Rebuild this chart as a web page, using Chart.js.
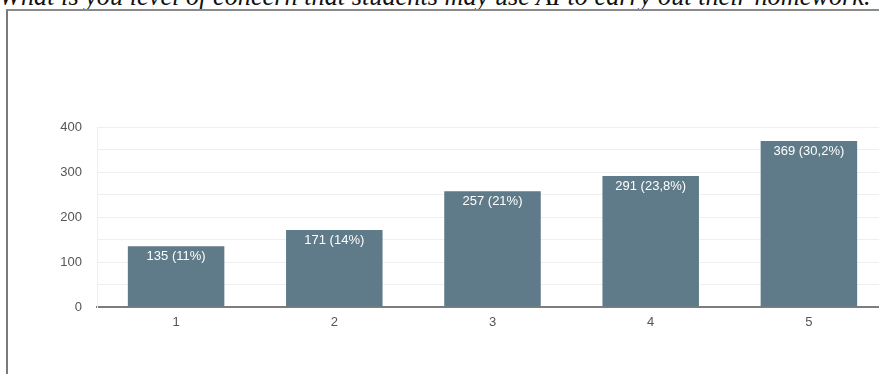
<!DOCTYPE html>
<html>
<head>
<meta charset="utf-8">
<script src="https://cdn.jsdelivr.net/npm/chart.js@4.4.1/dist/chart.umd.min.js"></script>
<style>
  html, body { margin: 0; padding: 0; background: #fff; overflow: hidden; }
  body { width: 879px; height: 374px; position: relative; }
  #question {
    position: absolute; left: -1px; top: -18px; white-space: nowrap; line-height: 30px;
    font: italic 26.3px "Liberation Serif", "DejaVu Serif", serif; color: #111;
  }
  #frame {
    position: absolute; left: 6px; top: 9px; width: 900px; height: 400px;
    border-left: 2px solid #7a7a7a; border-top: 2px solid #8a8a8a;
  }
  #wrap { position: absolute; left: 0; top: 0; width: 900px; height: 374px; }
</style>
</head>
<body>
<div id="question">What is you level of concern that students may use AI to carry out their homework.</div>
<div id="frame"></div>
<div id="wrap"><canvas id="answers"></canvas></div>
<script>
const levels = ['1', '2', '3', '4', '5'];
const responses = [135, 171, 257, 291, 369];
const shares = ['11%', '14%', '21%', '23,8%', '30,2%'];
const yTicks = [0, 100, 200, 300, 400];

// writes "count (share)" just inside the top of each bar
const barLabels = {
  id: 'barLabels',
  afterDatasetsDraw(chart) {
    const { ctx } = chart;
    const meta = chart.getDatasetMeta(0);
    ctx.save();
    ctx.fillStyle = '#ffffff';
    ctx.font = '13px "Liberation Sans", Arial, sans-serif';
    ctx.textAlign = 'center';
    ctx.textBaseline = 'top';
    meta.data.forEach((bar, i) => {
      ctx.fillText(responses[i] + ' (' + shares[i] + ')', bar.x, bar.y + 4);
    });
    ctx.restore();
  }
};

new Chart(document.getElementById('answers'), {
  type: 'bar',
  data: {
    labels: levels,
    datasets: [{
      data: responses,
      backgroundColor: '#5f7a88',
      categoryPercentage: 1,
      barPercentage: 0.61
    }]
  },
  options: {
    responsive: true,
    maintainAspectRatio: false,
    animation: false,
    layout: { padding: { left: 0, top: 127, right: 12, bottom: 47 } },
    plugins: { legend: { display: false }, tooltip: { enabled: false } },
    scales: {
      x: {
        afterFit: s => { s.height = 20; },
        grid: { display: false, drawTicks: false },
        border: { display: true, color: '#7d7d7d', width: 2 },
        ticks: { color: '#555', padding: 8, font: { family: '"Liberation Sans", Arial, sans-serif', size: 13 } }
      },
      y: {
        min: 0,
        max: 400,
        afterFit: s => { s.width = 97; },
        grid: { color: '#efefef', drawTicks: false },
        border: { display: true, color: '#eeeeee', width: 1 },
        ticks: {
          stepSize: 50,
          padding: 15,
          color: '#555',
          font: { family: '"Liberation Sans", Arial, sans-serif', size: 13 },
          callback: v => yTicks.includes(v) ? v : ''
        }
      }
    }
  },
  plugins: [barLabels]
});
</script>
</body>
</html>
